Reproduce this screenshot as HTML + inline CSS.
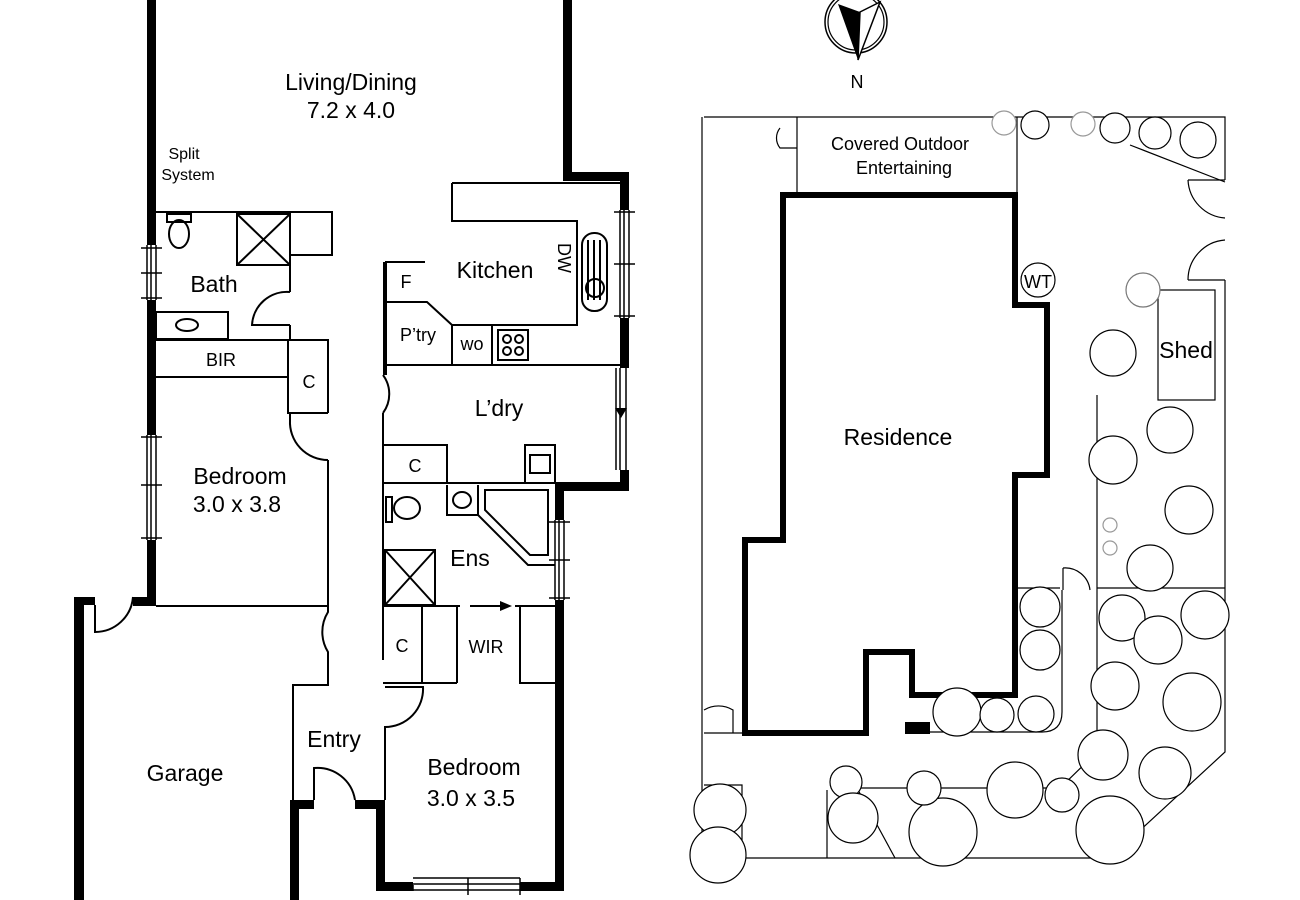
<!DOCTYPE html>
<html><head><meta charset="utf-8"><style>
html,body{margin:0;padding:0;background:#fff;width:1300px;height:900px;overflow:hidden}
svg{display:block}
text{font-family:"Liberation Sans",sans-serif;fill:#000}
</style></head><body>
<svg width="1300" height="900" viewBox="0 0 1300 900" xmlns="http://www.w3.org/2000/svg">
<g fill="#000">
<rect x="147" y="0" width="9" height="245"/>
<rect x="147" y="300" width="9" height="135"/>
<rect x="147" y="540" width="9" height="66"/>
<rect x="563" y="0" width="9" height="180"/>
<rect x="563" y="172" width="66" height="9"/>
<rect x="620" y="172" width="9" height="38"/>
<rect x="620" y="318" width="9" height="50"/>
<rect x="620" y="470" width="9" height="20"/>
<rect x="555" y="482" width="74" height="9"/>
<rect x="555" y="482" width="9" height="38"/>
<rect x="555" y="600" width="9" height="290"/>
<rect x="520" y="882" width="44" height="9"/>
<rect x="383" y="882" width="30" height="9"/>
<rect x="376" y="800" width="9" height="91"/>
<rect x="355" y="800" width="28" height="9"/>
<rect x="290" y="800" width="24" height="9"/>
<rect x="290" y="800" width="9" height="100"/>
<rect x="74" y="597" width="10" height="303"/>
<rect x="74" y="597" width="21" height="8"/>
<rect x="133" y="597" width="23" height="9"/>
<rect x="383" y="262" width="4" height="113"/>
<rect x="905" y="722" width="25" height="12"/>
</g>
<g fill="none" stroke="#000" stroke-width="1.5">
<path d="M147 245V300M151 245V300M156 245V300M141 248H162M141 273H162M141 298H162"/>
<path d="M147 435V540M151 435V540M156 435V540M141 437H162M141 485H162M141 538H162"/>
<path d="M620 210V318M624 210V318M629 210V318M614 212H635M614 264H635M614 316H635"/>
<path d="M616 368V470M620 368V470M626 368V470"/>
<path d="M555 520V600M559 520V600M564 520V600M549 522H570M549 560H570M549 598H570"/>
<path d="M413 885V891M413 878H520M413 884H520M413 890H520M468 878V895M520 878V895"/>
</g>
<polygon points="615,408 627,408 621,418" fill="#000"/>
<g fill="none" stroke="#000" stroke-width="2">
<path d="M156 212H332V255H290V292"/>
<rect x="237" y="214" width="53" height="51"/><path d="M237 214L290 265M290 214L237 265"/>
<path d="M290 325V340M290 292A35 35 0 0 0 252 325H290"/>
<rect x="156" y="312" width="72" height="27"/>
<ellipse cx="187" cy="325" rx="11" ry="6"/>
<ellipse cx="179" cy="234" rx="10" ry="14"/><rect x="167" y="214" width="24" height="8"/>
<path d="M156 340H328V413M156 377H288M288 340V413H328M328 460V606M156 606H328"/>
<path d="M290 413V420A38 38 0 0 0 328 460"/>
<path d="M452 183H620M452 183V221H577V325H452V365M383 365H620"/>
<path d="M385 262H425M383 302H427L452 325M452 325V365M492 325V365"/>
<rect x="498" y="330" width="30" height="30"/>
<circle cx="507" cy="339" r="4"/><circle cx="519" cy="339" r="4"/><circle cx="507" cy="351" r="4"/><circle cx="519" cy="351" r="4"/>
<rect x="582" y="233" width="25" height="78" rx="12"/>
<path d="M588 240V300M594 240V300M600 240V300"/><circle cx="595" cy="288" r="9"/>
<path d="M383 375A32 32 0 0 1 383 413"/>
<path d="M383 413V660M383 445H447V483M383 483H555"/>
<rect x="525" y="445" width="30" height="38"/><rect x="530" y="455" width="20" height="18"/>
<path d="M447 485V515H478"/><ellipse cx="462" cy="500" rx="9" ry="8"/>
<path d="M478 485V515L528 565H555M485 490H548V555H530L485 510Z"/>
<ellipse cx="407" cy="508" rx="13" ry="11"/><rect x="386" y="497" width="6" height="25"/>
<rect x="385" y="550" width="50" height="55"/><path d="M385 550L435 605M435 550L385 605"/>
<path d="M383 606H460M515 606H555"/>
<path d="M422 606V683M457 606V683M422 683H457M383 683H422M520 606V683H555"/>
<path d="M385 687H423A38 38 0 0 1 385 727V800"/>
<path d="M328 606V612A38 38 0 0 0 328 652V685H293V800"/>
<path d="M314 800V768A38 38 0 0 1 355 800"/>
<path d="M95 605V632A38 38 0 0 0 133 597"/>
</g>
<line x1="470" y1="606" x2="500" y2="606" stroke="#000" stroke-width="2"/>
<polygon points="500,601 512,606 500,611" fill="#000"/>

<g fill="none" stroke="#000" stroke-width="1.2">
<path d="M704 117H1225V180M1225 280V752L1110 858H702V117"/>
<path d="M797 117V195M1017 117V195M780 128A16 16 0 0 0 780 148H797"/>
<path d="M1130 145L1225 182"/>
<path d="M1188 180H1225M1188 280H1225"/>
<path d="M1188 180A40 40 0 0 0 1225 218M1188 280A40 40 0 0 1 1225 240"/>
<rect x="1158" y="290" width="57" height="110"/>
<path d="M1097 395V752L1060 788H860M1097 588H1225M1013 588H1060"/>
<path d="M1063 568V590M1063 568A25 25 0 0 1 1090 590"/>
<path d="M1062 590V712Q1062 732 1042 732H930"/>
<path d="M745 733H704M704 710A28 28 0 0 1 733 710V733"/>
<path d="M704 785H742V858M827 790V858M857 788L895 858"/>
</g>
<polygon points="783,195 1015,195 1015,305 1047,305 1047,475 1015,475 1015,695 912,695 912,652 866,652 866,733 745,733 745,540 783,540" fill="none" stroke="#000" stroke-width="6"/>
<circle cx="1038" cy="280" r="17" fill="#fff" stroke="#000" stroke-width="1.2"/>

<g fill="#fff" stroke="#000" stroke-width="1.2">
<circle cx="1004" cy="123" r="12" stroke="#999"/><circle cx="1035" cy="125" r="14"/>
<circle cx="1083" cy="124" r="12" stroke="#999"/><circle cx="1115" cy="128" r="15"/>
<circle cx="1155" cy="133" r="16"/><circle cx="1198" cy="140" r="18"/>
<circle cx="1143" cy="290" r="17" stroke="#777"/><circle cx="1113" cy="353" r="23"/>
<circle cx="1170" cy="430" r="23"/><circle cx="1113" cy="460" r="24"/>
<circle cx="1189" cy="510" r="24"/><circle cx="1110" cy="525" r="7" stroke="#999"/>
<circle cx="1110" cy="548" r="7" stroke="#999"/><circle cx="1150" cy="568" r="23"/>
<circle cx="1040" cy="607" r="20"/><circle cx="1040" cy="650" r="20"/>
<circle cx="957" cy="712" r="24"/><circle cx="997" cy="715" r="17"/><circle cx="1036" cy="714" r="18"/>
<circle cx="1122" cy="618" r="23"/><circle cx="1205" cy="615" r="24"/>
<circle cx="1158" cy="640" r="24"/><circle cx="1115" cy="686" r="24"/>
<circle cx="1192" cy="702" r="29"/><circle cx="1103" cy="755" r="25"/>
<circle cx="1165" cy="773" r="26"/><circle cx="1062" cy="795" r="17"/>
<circle cx="1015" cy="790" r="28"/><circle cx="1110" cy="830" r="34"/>
<circle cx="943" cy="832" r="34"/><circle cx="924" cy="788" r="17"/>
<circle cx="846" cy="782" r="16"/><circle cx="853" cy="818" r="25"/>
<circle cx="720" cy="810" r="26"/><circle cx="718" cy="855" r="28"/>
</g>

<circle cx="856" cy="22" r="31" fill="none" stroke="#000" stroke-width="1.5"/>
<circle cx="856" cy="22" r="28" fill="none" stroke="#000" stroke-width="1.2"/>
<polygon points="838,4 860,12 858,60" fill="#000"/>
<polygon points="860,12 880,2 858,60" fill="#fff" stroke="#000" stroke-width="1.5"/>

<g font-size="23" text-anchor="middle">
<text x="351" y="90">Living/Dining</text>
<text x="351" y="118">7.2 x 4.0</text>
<text x="214" y="292">Bath</text>
<text x="495" y="278">Kitchen</text>
<text x="499" y="416">L’dry</text>
<text x="240" y="484">Bedroom</text>
<text x="237" y="512">3.0 x 3.8</text>
<text x="470" y="566">Ens</text>
<text x="334" y="747">Entry</text>
<text x="185" y="781">Garage</text>
<text x="474" y="775">Bedroom</text>
<text x="471" y="806">3.0 x 3.5</text>
<text x="898" y="445">Residence</text>
<text x="1186" y="358">Shed</text>
</g>
<g font-size="18" text-anchor="middle">
<text x="221" y="366">BIR</text>
<text x="309" y="388">C</text>
<text x="415" y="472">C</text>
<text x="402" y="652">C</text>
<text x="406" y="288">F</text>
<text x="418" y="341">P’try</text>
<text x="472" y="350">wo</text>
<text x="486" y="653">WIR</text>
<text x="1038" y="288">WT</text>
<text x="857" y="88">N</text>
<text x="900" y="150">Covered Outdoor</text>
<text x="904" y="174">Entertaining</text>
</g>
<g font-size="16" text-anchor="middle">
<text x="184" y="159">Split</text>
<text x="188" y="180">System</text>
</g>
<text x="0" y="0" font-size="18" transform="translate(558,243) rotate(90)">DW</text>
</svg>
</body></html>
